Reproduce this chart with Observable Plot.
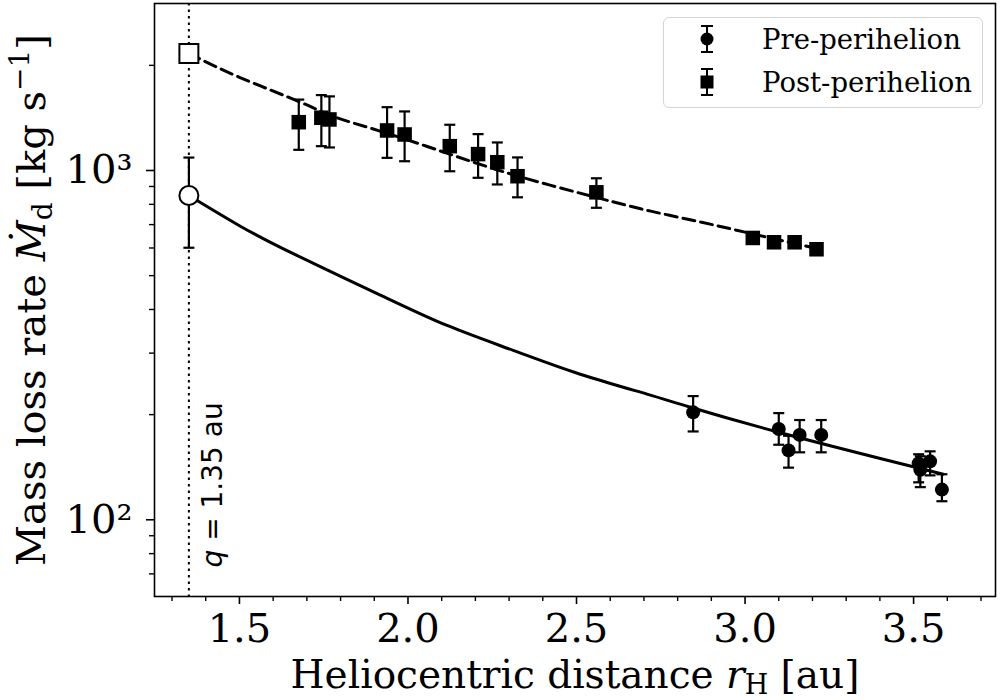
<!DOCTYPE html>
<html><head><meta charset="utf-8">
<script src="https://cdn.jsdelivr.net/npm/d3@7"></script>
<script src="https://cdn.jsdelivr.net/npm/@observablehq/plot@0.6"></script>
<style>
body{margin:0;background:#fff;}
#wrap{position:relative;width:1000px;height:700px;}
#legend{position:absolute;left:663px;top:17px;width:320px;height:91px;box-sizing:border-box;border:1.5px solid #d4d4d4;border-radius:6px;background:rgba(255,255,255,0.85);}
#legend text{font-family:"DejaVu Serif";font-size:27.5px;fill:#000;}
</style></head><body><div id="wrap"></div>
<script>
// Pre-perihelion observations
const preR    = [2.846, 3.100, 3.129, 3.162, 3.226, 3.515, 3.520, 3.549, 3.584];
const preMdot = [203, 182, 158, 175, 175, 145, 139, 147, 122];
const preLo   = [179, 164, 141, 156, 156, 128, 124, 134, 113];
const preHi   = [226, 202, 174, 193, 193, 154, 152, 157, 135];
// Post-perihelion observations
const postR    = [1.676, 1.743, 1.767, 1.938, 1.990, 2.124, 2.208, 2.265, 2.325, 2.559, 3.023, 3.086, 3.147, 3.212];
const postMdot = [1375, 1416, 1400, 1302, 1268, 1174, 1114, 1056, 963, 866, 641, 623, 623, 595];
const postLo   = [1146, 1174, 1164, 1087, 1063, 995, 953, 912, 838, 782, 619, 601, 601, 574];
const postHi   = [1596, 1644, 1630, 1518, 1476, 1352, 1271, 1203, 1090, 950, 663, 645, 645, 616];
// Values at perihelion q
const periR = 1.35;
const periPreMdot = 848, periPreLo = 601, periPreHi = 1089;
const periPostMdot = 2164;
// Fitted curves
const fitPreR    = [1.35, 1.5, 1.661, 1.918, 2.116, 2.314, 2.511, 2.709, 2.838, 3.1, 3.41, 3.588];
const fitPreMdot = [848, 695, 577, 440, 360, 305, 261, 229, 210, 178, 149, 135];
const fitPostR    = [1.35, 1.5, 1.68, 1.785, 1.93, 2.126, 2.324, 2.561, 2.72, 2.868, 3.006, 3.232];
const fitPostMdot = [2164, 1849, 1570, 1421, 1285, 1112, 965, 836, 765, 712, 664, 592];
// Ticks
const xTicks = [1.5, 2.0, 2.5, 3.0, 3.5];
const xMinor = [1.3,1.4,1.6,1.7,1.8,1.9,2.1,2.2,2.3,2.4,2.6,2.7,2.8,2.9,3.1,3.2,3.3,3.4,3.6,3.7];
const yTicks = [100, 1000];
const yTickLabels = ["10²", "10³"];
const yMinor = [70,80,90,200,300,400,500,600,700,800,900,2000];
const qLabel = "q = 1.35 au";
const xLabel = "Heliocentric distance rH [au]";
const yLabel = "Mass loss rate Ṁd [kg s−1]";
const legendLabels = ["Pre-perihelion", "Post-perihelion"];

const pre = preR.map((r,i)=>({r, m:preMdot[i], lo:preLo[i], hi:preHi[i]}));
const post = postR.map((r,i)=>({r, m:postMdot[i], lo:postLo[i], hi:postHi[i]}));
const periPre = [{r:periR, m:periPreMdot, lo:periPreLo, hi:periPreHi}];
const periPost = [{r:periR, m:periPostMdot}];
const fitPre = fitPreR.map((r,i)=>({r, m:fitPreMdot[i]}));
const fitPost = fitPostR.map((r,i)=>({r, m:fitPostMdot[i]}));

const cap = {draw(ctx, size){ const w = Math.sqrt(size/Math.PI); ctx.moveTo(-w,0); ctx.lineTo(w,0); }};
const errMarks = (data) => [
  Plot.ruleX(data, {x:"r", y1:"lo", y2:"hi", stroke:"black", strokeWidth:2.2}),
  Plot.dot(data, {x:"r", y:"lo", symbol:cap, r:5.5, stroke:"black", strokeWidth:2.2, fill:"none"}),
  Plot.dot(data, {x:"r", y:"hi", symbol:cap, r:5.5, stroke:"black", strokeWidth:2.2, fill:"none"})
];

const chart = Plot.plot({
  width:1000, height:700,
  marginLeft:154, marginRight:5, marginTop:3, marginBottom:104,
  style:{fontFamily:"DejaVu Serif", background:"white", color:"black", overflow:"visible"},
  x:{domain:[1.248, 3.743]},
  y:{type:"log", domain:[60.3, 3007]},
  marks:[
    Plot.axisX(xMinor, {tickSize:5, tickFormat:()=>"", label:null, strokeWidth:1.4}),
    Plot.axisX(xTicks, {tickSize:8, tickPadding:9, fontSize:40, tickFormat:d=>d.toFixed(1), label:null, strokeWidth:1.6}),
    Plot.axisY(yMinor, {tickSize:5, tickFormat:()=>"", label:null, strokeWidth:1.4}),
    Plot.axisY(yTicks, {tickSize:8, tickPadding:14, fontSize:40, tickFormat:d=>yTickLabels[yTicks.indexOf(d)], label:null, strokeWidth:1.6}),
    Plot.ruleX([periR], {stroke:"black", strokeWidth:2, strokeDasharray:"2.5,4"}),
    Plot.text([qLabel], {x:()=>periR, y:()=>73, rotate:-90, textAnchor:"start", lineAnchor:"middle", dx:24, fontFamily:"DejaVu Sans", fontSize:28}),
    Plot.line(fitPre, {x:"r", y:"m", stroke:"black", strokeWidth:3, curve:"natural"}),
    Plot.line(fitPost, {x:"r", y:"m", stroke:"black", strokeWidth:3, strokeDasharray:"12,6", curve:"natural"}),
    ...errMarks(pre),
    ...errMarks(post),
    ...errMarks(periPre),
    Plot.dot(pre, {x:"r", y:"m", r:7, fill:"black"}),
    Plot.dot(post, {x:"r", y:"m", symbol:"square", r:8.2, fill:"black"}),
    Plot.dot(periPre, {x:"r", y:"m", r:9.5, fill:"white", stroke:"black", strokeWidth:2}),
    Plot.dot(periPost, {x:"r", y:"m", symbol:"square", r:10.7, fill:"white", stroke:"black", strokeWidth:2}),
    Plot.frame({stroke:"black", strokeWidth:1.6}),
    Plot.text([xLabel], {frameAnchor:"bottom", textAnchor:"middle", dy:79, fontSize:39, lineAnchor:"middle"}),
    Plot.text([yLabel], {frameAnchor:"left", textAnchor:"middle", dx:-122, rotate:-90, fontSize:40, lineAnchor:"middle"})
  ]
});

const wrap = document.getElementById("wrap");
wrap.appendChild(chart);

const texts = [...chart.querySelectorAll("text")];
const pick = (s) => texts.find(t => t.textContent.trim() === s);
const xl = pick(xLabel);
if (xl) xl.innerHTML = 'Heliocentric distance <tspan font-style="italic">r</tspan><tspan font-size="27" dy="6">H</tspan><tspan dy="-6"> [au]</tspan>';
const yl = pick(yLabel);
if (yl) yl.innerHTML = 'Mass loss rate <tspan font-style="italic">Ṁ</tspan><tspan font-size="28" dy="7">d</tspan><tspan dy="-7"> [kg s</tspan><tspan font-size="28" dy="-16">−1</tspan><tspan dy="16">]</tspan>';
const ql = pick(qLabel);
if (ql) ql.innerHTML = '<tspan font-style="italic">q</tspan> = 1.35 au';

// Legend
const lg = document.createElement("div");
lg.id = "legend";
const ns = "http://www.w3.org/2000/svg";
const ls = document.createElementNS(ns, "svg");
ls.setAttribute("width", 320); ls.setAttribute("height", 91);
ls.style.position = "absolute"; ls.style.left = "-1.5px"; ls.style.top = "-1.5px";
let html = "";
legendLabels.forEach((lab, i) => {
  const cy = 22 + i*43, cx = 44;
  html += `<line x1="${cx}" x2="${cx}" y1="${cy-13}" y2="${cy+13}" stroke="black" stroke-width="2"/>`;
  html += `<line x1="${cx-6}" x2="${cx+6}" y1="${cy-13}" y2="${cy-13}" stroke="black" stroke-width="2"/>`;
  html += `<line x1="${cx-6}" x2="${cx+6}" y1="${cy+13}" y2="${cy+13}" stroke="black" stroke-width="2"/>`;
  html += i === 0 ? `<circle cx="${cx}" cy="${cy}" r="6.5" fill="black"/>` : `<rect x="${cx-6.5}" y="${cy-6.5}" width="13" height="13" fill="black"/>`;
  html += `<text x="99" y="${cy}" dominant-baseline="central">${lab}</text>`;
});
ls.innerHTML = html;
lg.appendChild(ls);
wrap.appendChild(lg);
</script></body></html>
